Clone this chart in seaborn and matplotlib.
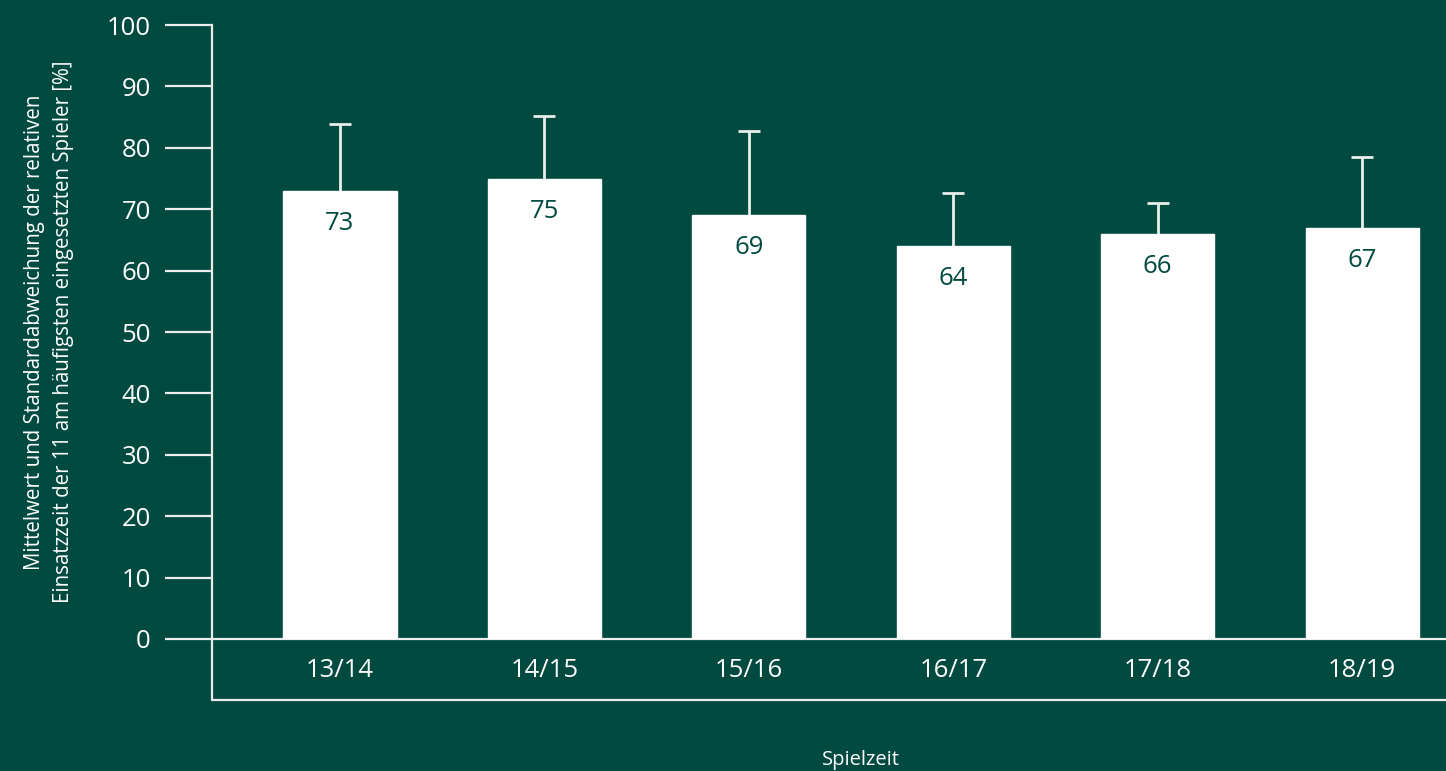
import matplotlib
matplotlib.use("Agg")
import matplotlib.pyplot as plt
import seaborn as sns
import pandas as pd
import numpy as np
from matplotlib.lines import Line2D

# data
seasons = ["13/14", "14/15", "15/16", "16/17", "17/18", "18/19"]
mean_pct = [73, 75, 69, 64, 66, 67]
sd_pct = [10.9, 10.1, 13.8, 8.7, 5.0, 11.5]
y_ticks = [0, 10, 20, 30, 40, 50, 60, 70, 80, 90, 100]

bg = "#014a40"
line_col = "#e9eeec"

sns.set_theme(style="white")
plt.rcParams['font.family'] = ['Open Sans', 'DejaVu Sans']

df = pd.DataFrame({"Spielzeit": seasons, "Wert": mean_pct})

fig = plt.figure(figsize=(14.46, 7.71), dpi=100, facecolor=bg)
ax = fig.add_axes([212 / 1446, 1 - 639 / 771, 1234 / 1446, 614 / 771])
ax.set_facecolor(bg)

sns.barplot(data=df, x="Spielzeit", y="Wert", color="white", saturation=1,
            width=0.553, ax=ax, zorder=3)

# upper standard deviation only: stem plus cap
xpos = np.arange(len(seasons))
upper = np.array(mean_pct) + np.array(sd_pct)
ax.vlines(xpos, mean_pct, upper, color=line_col, lw=2, zorder=2)
ax.plot(xpos, upper, linestyle="none", marker="_", markersize=16,
        markeredgewidth=2, color=line_col, zorder=2)

ax.set_ylim(0, 100)
ax.set_xlim(-0.626, 5.41)
ax.set_yticks(y_ticks)
ax.set_yticklabels([str(t) for t in y_ticks], color="white", fontsize=18.5)
ax.tick_params(axis="y", left=True, direction="out", length=34, width=1.6,
               color=line_col, pad=10)
ax.tick_params(axis="x", bottom=False, length=0, pad=14, labelsize=18.5, labelcolor="white")

for s in ["top", "right"]:
    ax.spines[s].set_visible(False)
for s in ["left", "bottom"]:
    ax.spines[s].set_color(line_col)
    ax.spines[s].set_linewidth(1.6)

# box below the category axis
lo = -61 / 614
ax.add_line(Line2D([0, 0], [0, lo], transform=ax.transAxes, color=line_col, lw=1.6, clip_on=False))
ax.add_line(Line2D([0, 1], [lo, lo], transform=ax.transAxes, color=line_col, lw=1.6, clip_on=False))

for i, v in enumerate(mean_pct):
    ax.text(i, v - 5.3, str(v), ha="center", va="center", color=bg, fontsize=18.5, zorder=4)

ax.set_xlabel("Spielzeit", color="white", fontsize=14.5)
ax.xaxis.set_label_coords((861 - 212) / 1234, -(750 - 639) / 614)
ax.set_ylabel("Mittelwert und Standardabweichung der relativen\n"
              "Einsatzzeit der 11 am häufigsten eingesetzten Spieler [%]",
              color="white", fontsize=14.8, linespacing=1.5)
ax.yaxis.set_label_coords(-(212 - 74) / 1234, 0.5)

fig.savefig("out.png", dpi=100, facecolor=bg)
